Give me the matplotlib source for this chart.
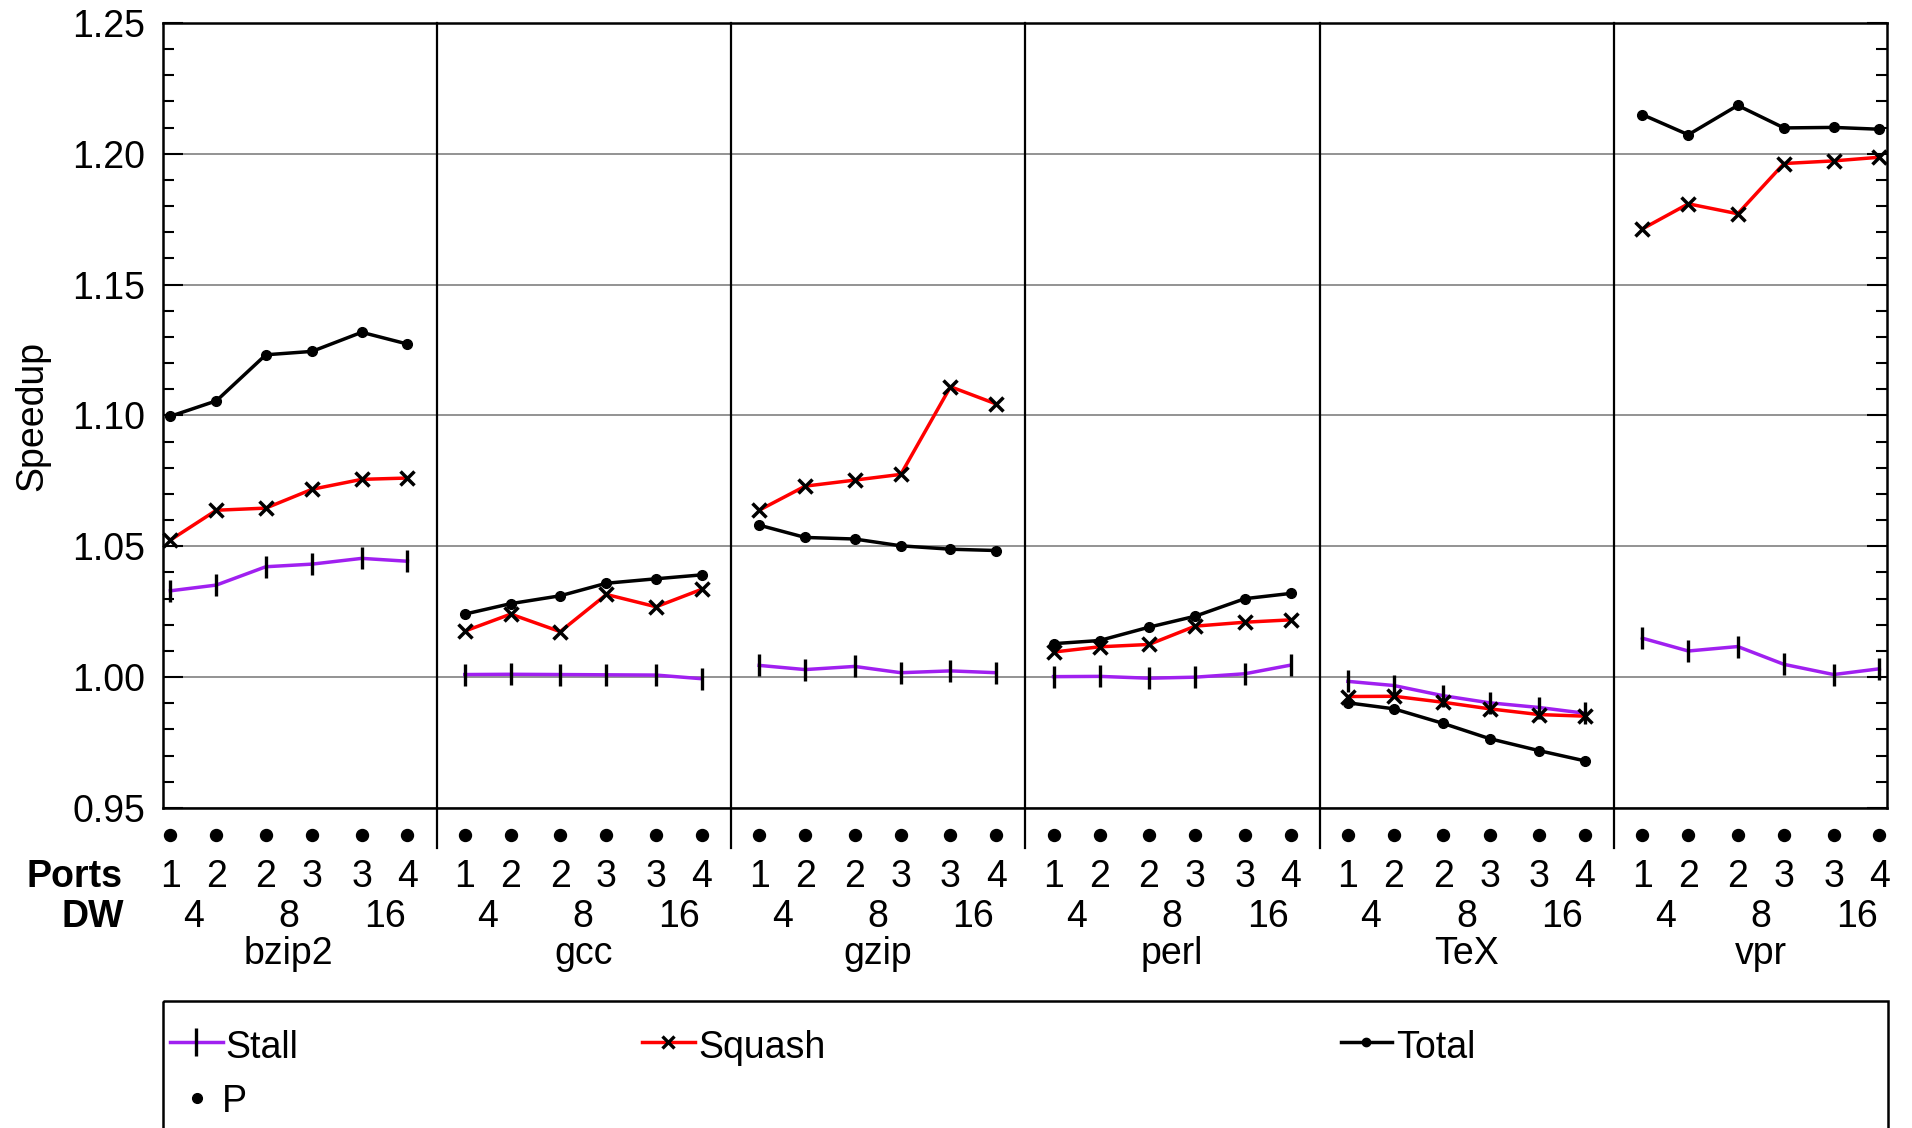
import matplotlib
matplotlib.use("Agg")
import matplotlib.pyplot as plt
from matplotlib.patches import Rectangle
from matplotlib.ticker import MultipleLocator, FormatStrFormatter
import numpy as np

plt.rcParams['font.family'] = ['Liberation Sans', 'DejaVu Sans']

benchmarks = ['bzip2', 'gcc', 'gzip', 'perl', 'TeX', 'vpr']
ports = ['1', '2', '2', '3', '3', '4']
dw = ['4', '8', '16']

# one row per benchmark, six configs (ports x DW)
stall = [
    [1.0330, 1.0352, 1.0422, 1.0432, 1.0454, 1.0443],
    [1.0010, 1.0011, 1.0010, 1.0009, 1.0008, 0.9994],
    [1.0045, 1.0029, 1.0041, 1.0017, 1.0024, 1.0017],
    [1.0002, 1.0003, 0.9996, 1.0000, 1.0013, 1.0046],
    [0.9984, 0.9968, 0.9929, 0.9902, 0.9884, 0.9862],
    [1.0149, 1.0100, 1.0117, 1.0049, 1.0010, 1.0032],
]
squash = [
    [1.0524, 1.0638, 1.0646, 1.0718, 1.0756, 1.0761],
    [1.0176, 1.0241, 1.0174, 1.0316, 1.0269, 1.0336],
    [1.0638, 1.0730, 1.0753, 1.0775, 1.1110, 1.1044],
    [1.0096, 1.0116, 1.0125, 1.0195, 1.0210, 1.0219],
    [0.9926, 0.9927, 0.9904, 0.9879, 0.9857, 0.9851],
    [1.1713, 1.1809, 1.1771, 1.1963, 1.1973, 1.1987],
]
total = [
    [1.0997, 1.1056, 1.1232, 1.1245, 1.1318, 1.1273],
    [1.0241, 1.0281, 1.0311, 1.0359, 1.0376, 1.0391],
    [1.0581, 1.0534, 1.0528, 1.0502, 1.0489, 1.0484],
    [1.0128, 1.0140, 1.0191, 1.0233, 1.0300, 1.0320],
    [0.9902, 0.9879, 0.9823, 0.9765, 0.9719, 0.9680],
    [1.2150, 1.2073, 1.2185, 1.2099, 1.2101, 1.2094],
]

W, H = 1912, 1128
fig = plt.figure(figsize=(W / 100, H / 100), dpi=100)
ax = fig.add_axes([163 / W, 1 - 808 / H, (1887 - 163) / W, (808 - 23) / H])

# x layout: six points per benchmark, grouped in pairs by DW
offs = np.array([0, 1, 2.075, 3.08, 4.16, 5.155])
stride = 6.4
purple = '#a020f0'
fs = 27

for g in range(len(benchmarks)):
    x = g * stride + offs
    ax.plot(x, stall[g], color=purple, lw=2.5, marker='|', ms=16, mew=2.4,
            mec='black', clip_on=False, zorder=3)
    ax.plot(x, squash[g], color='red', lw=2.5, marker='x', ms=10, mew=2.5,
            mec='black', clip_on=False, zorder=4)
    ax.plot(x, total[g], color='black', lw=2.5, marker='o', ms=7,
            clip_on=False, zorder=5)

    tr = ax.get_xaxis_transform()
    ax.plot(x, [-0.0344] * 6, 'o', color='black', ms=8.6, transform=tr, clip_on=False)
    for xi, p in zip(x, ports):
        ax.text(xi, -0.1006, p, transform=tr, ha='center', va='baseline', fontsize=fs)
    for k, d in enumerate(dw):
        ax.text((x[2 * k] + x[2 * k + 1]) / 2, -0.1516, d, transform=tr,
                ha='center', va='baseline', fontsize=fs)
    ax.text((x[0] + x[-1]) / 2, -0.1987, benchmarks[g], transform=tr,
            ha='center', va='baseline', fontsize=fs)
    if g > 0:
        d = g * stride - 0.61
        ax.plot([d, d], [-0.051, 1], transform=tr, color='black', lw=1.6,
                clip_on=False, zorder=6)

ax.set_xlim(-0.16, 37.32)
ax.set_ylim(0.95, 1.25)
ax.yaxis.set_major_locator(MultipleLocator(0.05))
ax.yaxis.set_minor_locator(MultipleLocator(0.01))
ax.yaxis.set_major_formatter(FormatStrFormatter('%.2f'))
ax.yaxis.grid(True, which='major', color='#808080', lw=1.2)
ax.set_axisbelow(True)
ax.tick_params(axis='y', which='major', direction='in', length=14.5, width=1.5,
               right=True, labelsize=fs, pad=13)
ax.tick_params(axis='y', which='minor', direction='in', length=8, width=1.5, right=True)
ax.tick_params(axis='x', bottom=False, labelbottom=False)
for s in ax.spines.values():
    s.set_linewidth(1.8)
ax.set_ylabel('Speedup', fontsize=fs)
ax.yaxis.set_label_coords((50 - 163) / 1724, 0.5)

# overlay in pixel units for row titles and the legend box
lg = fig.add_axes([0, 0, 1, 1], zorder=-1)
lg.set_xlim(0, W)
lg.set_ylim(H, 0)
lg.axis('off')
lg.text(123, 887, 'Ports', ha='right', va='baseline', fontsize=fs, weight='bold')
lg.text(124, 927, 'DW', ha='right', va='baseline', fontsize=fs, weight='bold')

lg.add_patch(Rectangle((163, 1001), 1725, 300, fill=False, lw=1.8, ec='black',
                       clip_on=False))
lg.plot([170, 223], [1042, 1042], color=purple, lw=2.5)
lg.plot([196], [1042], marker='|', ms=20, mew=2.4, color='black')
lg.text(225, 1058, 'Stall', va='baseline', fontsize=fs)
lg.plot([642, 695], [1042, 1042], color='red', lw=2.5)
lg.plot([668], [1042], marker='x', ms=9, mew=2.4, color='black')
lg.text(698, 1058, 'Squash', va='baseline', fontsize=fs)
lg.plot([1341, 1392], [1042, 1042], color='black', lw=2.5)
lg.plot([1366], [1042], 'o', color='black', ms=6)
lg.text(1396, 1058, 'Total', va='baseline', fontsize=fs)
lg.plot([197], [1098], 'o', color='black', ms=7)
lg.text(222, 1112, 'P', va='baseline', fontsize=fs)

fig.savefig('out.png', dpi=100)
